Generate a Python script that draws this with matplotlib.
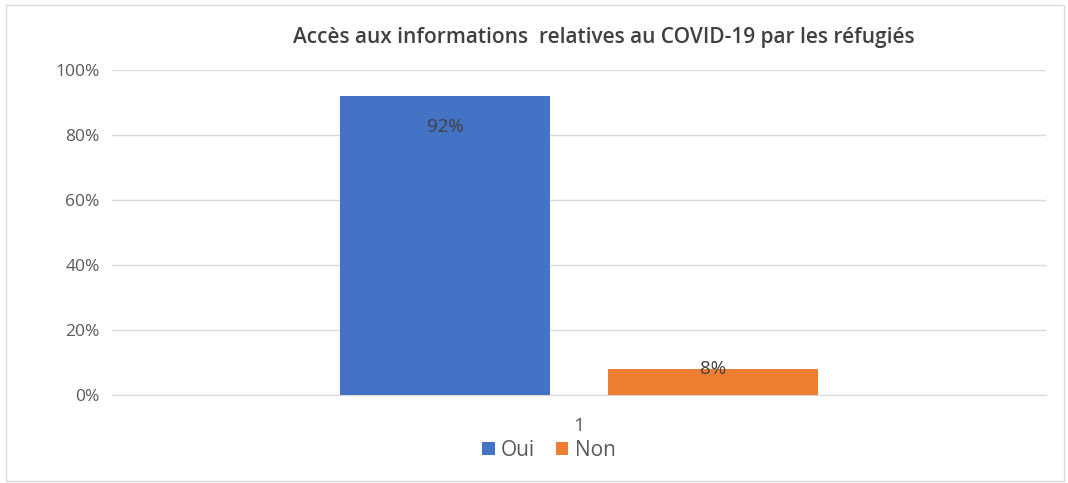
import matplotlib
matplotlib.use("Agg")
from matplotlib import pyplot as plt
from matplotlib.patches import Rectangle
import numpy as np

# data
categories = ["1"]
series_names = ["Oui", "Non"]
series_values = [0.92, 0.08]
series_colors = ["#4472C4", "#ED7D31"]
y_ticks = [0, 0.2, 0.4, 0.6, 0.8, 1.0]
title = "Accès aux informations  relatives au COVID-19 par les réfugiés"

plt.rcParams['font.family'] = ['Open Sans', 'DejaVu Sans']

fig = plt.figure(figsize=(10.68, 4.83), dpi=100)
ax = fig.add_axes([0.1049, 0.1822, 0.8745, 0.6729])

x = np.arange(len(categories))
width = 0.224
offsets = [-0.1435, 0.1435]

for name, val, col, off in zip(series_names, series_values, series_colors, offsets):
    bars = ax.bar(x + off, [val], width=width, color=col, label=name, zorder=3)
    for b in bars:
        h = b.get_height()
        # inside end, pushed to top edge when the bar is short
        dy = -31 if h > 0.2 else 0
        ax.annotate(f"{h:.0%}", (b.get_x() + b.get_width() / 2, h),
                    xytext=(0, dy), textcoords="offset pixels",
                    ha="center", va="center", fontsize=13.5, color="#404040", zorder=4)

ax.set_xlim(-0.5, 0.5)
ax.set_ylim(0, 1.0)
ax.set_yticks(y_ticks)
ax.set_yticklabels([f"{t:.0%}" for t in y_ticks])
ax.set_xticks(x)
ax.set_xticklabels(categories)
ax.tick_params(axis="both", length=0, labelsize=12.5, colors="#595959")
ax.tick_params(axis="x", labelsize=14)
ax.tick_params(axis="y", pad=9)
ax.tick_params(axis="x", pad=16)
ax.grid(axis="y", color="#d9d9d9", linewidth=1, zorder=0)
for s in ["top", "right", "left"]:
    ax.spines[s].set_visible(False)
ax.spines["bottom"].set_color("#d9d9d9")

fig.text(0.565, 0.923, title, ha="center", va="center", fontsize=15,
         color="#404040", fontweight="semibold")

ax.legend(loc="center", bbox_to_anchor=(0.514, 0.068), bbox_transform=fig.transFigure,
          ncol=2, frameon=False, fontsize=15, handlelength=0.6, handleheight=0.6,
          handletextpad=0.3, columnspacing=1.0, labelcolor="#595959")

fig.patches.append(Rectangle((0.006, 0.005), 0.99, 0.985, transform=fig.transFigure,
                             fill=False, edgecolor="#d9d9d9", linewidth=1))

fig.savefig("out.png", dpi=100)
